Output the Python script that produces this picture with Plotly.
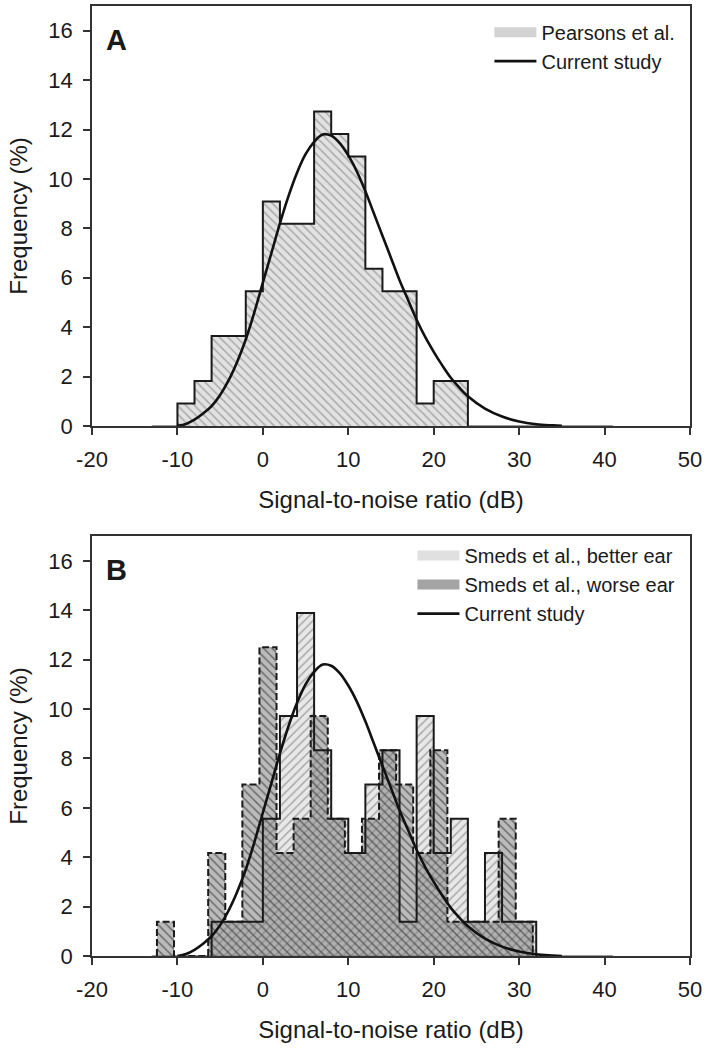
import plotly.graph_objects as go

# ---------------- data ----------------
BIN_W = 2.0
# Panel A: Pearsons et al. (bins start at -10 dB)
pearsons_start = -10.0
pearsons_vals = [0.91, 1.82, 3.64, 3.64, 5.45, 9.09, 8.18, 8.18, 12.73, 11.82,
                 10.91, 6.36, 5.45, 5.45, 0.91, 1.82, 1.82]
# Panel B: Smeds et al. better ear (bins start at -6 dB)
better_start = -6.0
better_vals = [1.39, 1.39, 1.39, 5.56, 9.72, 13.89, 8.33, 5.56, 4.17, 6.94,
               8.33, 1.39, 9.72, 4.17, 5.56, 1.39, 4.17, 1.39, 1.39]
# Panel B: Smeds et al. worse ear (bins start at -12.4 dB)
worse_start = -12.4
worse_vals = [1.39, 0.0, 0.0, 4.17, 1.39, 6.94, 12.5, 4.17, 5.56, 9.72,
              5.56, 4.17, 5.56, 8.33, 6.94, 4.17, 8.33, 1.39, 1.39, 1.39,
              5.56, 1.39]
# Current study distribution curve
curve_x = [-10, -9, -8, -7, -6, -5, -4, -3, -2, -1, 0, 1, 2, 3, 4, 5, 6, 7, 8, 9,
           10, 11, 12, 13, 14, 15, 16, 17, 18, 19, 20, 21, 22, 23, 24, 26, 28,
           30, 32, 34, 35]
curve_y = [0.0, 0.08, 0.25, 0.5, 0.8, 1.25, 1.85, 2.6, 3.5, 4.6, 5.8, 7.0, 8.2,
           9.3, 10.25, 11.0, 11.5, 11.8, 11.75, 11.45, 10.95, 10.3, 9.5, 8.6,
           7.7, 6.8, 5.9, 5.1, 4.3, 3.6, 3.0, 2.45, 1.95, 1.55, 1.2, 0.7, 0.38,
           0.18, 0.07, 0.02, 0.0]
baseline_x = [-13, 41]
baseline_y = [0, 0]

x_ticks = [-20, -10, 0, 10, 20, 30, 40, 50]
x_tick_labels = ["-20", "-10", "0", "10", "20", "30", "40", "50"]
y_ticks = [0, 2, 4, 6, 8, 10, 12, 14, 16]


def step_xy(start, width, vals):
    edges = [start + i * width for i in range(len(vals) + 1)]
    xs = [edges[0]] + edges[:-1] + [edges[-1], edges[-1]]
    ys = [0] + list(vals) + [vals[-1], 0]
    return xs, ys


FONT = "Liberation Sans, Arial, Helvetica, sans-serif"
INK = "#1a1a1a"

fig = go.Figure()


def legend_swatch(name, color, legend, rank, xa, ya):
    # legend-only entry drawn as a thick grey block
    return go.Scatter(x=[None], y=[None], mode="lines", name=name,
                      line=dict(color=color, width=13), legend=legend,
                      legendrank=rank, hoverinfo="skip", xaxis=xa, yaxis=ya)


# ---------- Panel A ----------
px_, py_ = step_xy(pearsons_start, BIN_W, pearsons_vals)
fig.add_trace(go.Scatter(x=baseline_x, y=baseline_y, mode="lines",
                         line=dict(color="#9a9a9a", width=2), showlegend=False,
                         hoverinfo="skip", xaxis="x", yaxis="y"))
fig.add_trace(go.Scatter(
    x=px_, y=py_, mode="lines", line_shape="hv", line=dict(width=0, color="rgba(0,0,0,0)"),
    fill="tozeroy", fillcolor="#e2e2e2",
    fillpattern=dict(shape="\\", bgcolor="#e2e2e2", fgcolor="#a8a8a8", size=6, solidity=0.25),
    showlegend=False, xaxis="x", yaxis="y"))
fig.add_trace(go.Scatter(x=px_, y=py_, mode="lines", line_shape="hv",
                         line=dict(color=INK, width=2), showlegend=False,
                         hoverinfo="skip", xaxis="x", yaxis="y"))
fig.add_trace(go.Scatter(x=curve_x, y=curve_y, mode="lines", line_shape="spline",
                         line=dict(color="#111111", width=2.6), name="Current study",
                         legend="legend", legendrank=3, xaxis="x", yaxis="y"))
fig.add_trace(legend_swatch("Pearsons et al.", "#d2d2d2", "legend", 1, "x", "y"))

# ---------- Panel B ----------
bx, by = step_xy(better_start, BIN_W, better_vals)
wx, wy = step_xy(worse_start, BIN_W, worse_vals)
fig.add_trace(go.Scatter(x=baseline_x, y=baseline_y, mode="lines",
                         line=dict(color="#9a9a9a", width=2), showlegend=False,
                         hoverinfo="skip", xaxis="x2", yaxis="y2"))
fig.add_trace(go.Scatter(
    x=bx, y=by, mode="lines", line_shape="hv", line=dict(width=0, color="rgba(0,0,0,0)"),
    fill="tozeroy", fillcolor="rgba(200,200,200,0.45)",
    fillpattern=dict(shape="/", bgcolor="rgba(205,205,205,0.45)",
                     fgcolor="rgba(140,140,140,0.7)", size=6, solidity=0.25),
    showlegend=False, xaxis="x2", yaxis="y2"))
fig.add_trace(go.Scatter(
    x=wx, y=wy, mode="lines", line_shape="hv", line=dict(width=0, color="rgba(0,0,0,0)"),
    fill="tozeroy", fillcolor="rgba(120,120,120,0.5)",
    fillpattern=dict(shape="\\", bgcolor="rgba(120,120,120,0.5)",
                     fgcolor="rgba(50,50,50,0.6)", size=6, solidity=0.25),
    showlegend=False, xaxis="x2", yaxis="y2"))
fig.add_trace(go.Scatter(x=bx, y=by, mode="lines", line_shape="hv",
                         line=dict(color=INK, width=2), showlegend=False,
                         hoverinfo="skip", xaxis="x2", yaxis="y2"))
fig.add_trace(go.Scatter(x=wx, y=wy, mode="lines", line_shape="hv",
                         line=dict(color=INK, width=2, dash="7px,3px"), showlegend=False,
                         hoverinfo="skip", xaxis="x2", yaxis="y2"))
fig.add_trace(go.Scatter(x=curve_x, y=curve_y, mode="lines", line_shape="spline",
                         line=dict(color="#111111", width=2.6), name="Current study",
                         legend="legend2", legendrank=3, xaxis="x2", yaxis="y2"))
fig.add_trace(legend_swatch("Smeds et al., better ear", "#e0e0e0", "legend2", 1, "x2", "y2"))
fig.add_trace(legend_swatch("Smeds et al., worse ear", "#a4a4a4", "legend2", 2, "x2", "y2"))

axis_common = dict(
    showline=True, linecolor="#333333", linewidth=1.5, mirror=True,
    ticks="outside", ticklen=7, tickwidth=1.5, tickcolor="#333333",
    showgrid=False, zeroline=False, automargin=False, ticklabelstandoff=6,
    tickfont=dict(family=FONT, size=22, color=INK),
)
xcommon = dict(axis_common, range=[-20, 50], tickvals=x_ticks, ticktext=x_tick_labels,
               title=dict(text="Signal-to-noise ratio (dB)",
                          font=dict(family=FONT, size=24, color=INK), standoff=20))
ycommon = dict(axis_common, range=[0, 17], tickvals=y_ticks,
               title=dict(text="Frequency (%)",
                          font=dict(family=FONT, size=24, color=INK), standoff=14))

legend_common = dict(font=dict(family=FONT, size=20, color=INK), bgcolor="rgba(0,0,0,0)",
                     borderwidth=0, xanchor="right", yanchor="top",
                     traceorder="normal", tracegroupgap=0, itemwidth=42)

fig.update_layout(
    template="none",
    width=709, height=1050,
    margin=dict(l=92, r=19, t=6, b=94, autoexpand=False),
    paper_bgcolor="white", plot_bgcolor="white",
    font=dict(family=FONT, color=INK),
    xaxis=dict(xcommon, anchor="y", domain=[0, 1]),
    yaxis=dict(ycommon, anchor="x", domain=[0.558, 1.0]),
    xaxis2=dict(xcommon, anchor="y2", domain=[0, 1]),
    yaxis2=dict(ycommon, anchor="x2", domain=[0.0, 0.442]),
    legend=dict(legend_common, x=0.984, y=0.993),
    legend2=dict(legend_common, x=0.984, y=0.442),
    annotations=[
        dict(text="<b>A</b>", x=0.02, y=0.92, xref="x domain", yref="y domain",
             xanchor="left", yanchor="middle", showarrow=False,
             font=dict(family=FONT, size=29, color=INK)),
        dict(text="<b>B</b>", x=0.02, y=0.92, xref="x2 domain", yref="y2 domain",
             xanchor="left", yanchor="middle", showarrow=False,
             font=dict(family=FONT, size=29, color=INK)),
    ],
)

fig.write_html("out.html",
               config={"displayModeBar": False},
               post_script="document.body.style.margin='0px';"
                           "document.body.style.overflow='hidden';")
